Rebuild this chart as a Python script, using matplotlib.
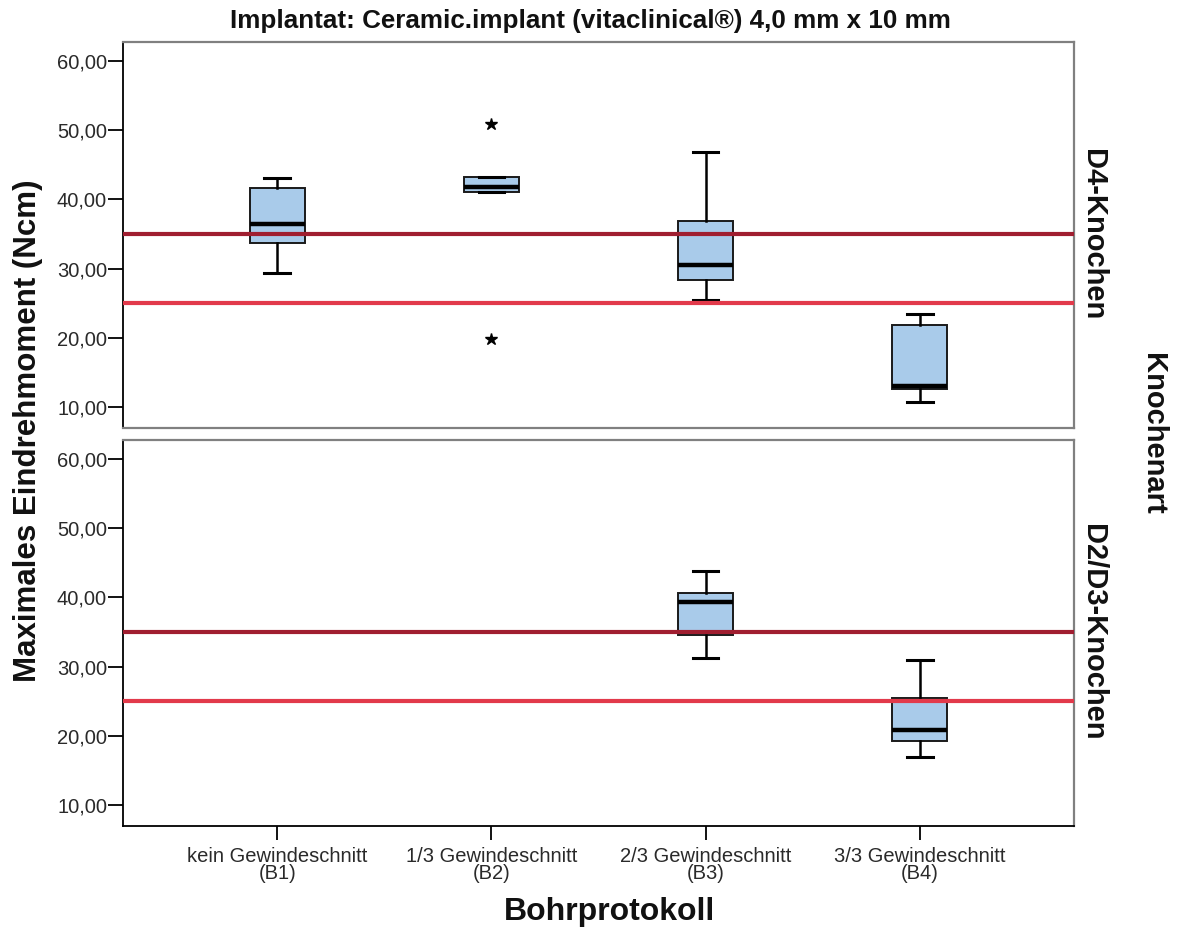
import matplotlib
matplotlib.use("Agg")
import matplotlib.pyplot as plt
from matplotlib.ticker import FuncFormatter

plt.rcParams['font.family'] = ['Liberation Sans', 'DejaVu Sans']

# Bohrprotokolle (x categories)
protokolle = ['kein Gewindeschnitt\n(B1)', '1/3 Gewindeschnitt\n(B2)',
              '2/3 Gewindeschnitt\n(B3)', '3/3 Gewindeschnitt\n(B4)']

# D4-Knochen: box statistics per protocol
d4_pos = [1, 2, 3, 4]
d4_whislo = [29.3, 41.0, 25.4, 10.7]
d4_q1 = [33.7, 41.0, 28.4, 12.6]
d4_med = [36.5, 41.8, 30.5, 13.0]
d4_q3 = [41.7, 43.2, 36.8, 21.9]
d4_whishi = [43.1, 43.2, 46.8, 23.5]
d4_fliers = [[], [50.9, 19.9], [], []]

# D2/D3-Knochen: only B3 and B4 measured
d23_pos = [3, 4]
d23_whislo = [31.3, 17.0]
d23_q1 = [34.5, 19.2]
d23_med = [39.3, 20.9]
d23_q3 = [40.6, 25.5]
d23_whishi = [43.8, 30.9]
d23_fliers = [[], []]

# reference torque limits
grenzen = [35, 25]
grenz_farben = ['#a01e30', '#e23a4b']

yticks = [10, 20, 30, 40, 50, 60]
box_color = '#a9cbea'
frame_color = '#808080'


def make_stats(whislo, q1, med, q3, whishi, fliers):
    return [dict(whislo=a, q1=b, med=c, q3=d, whishi=e, fliers=f)
            for a, b, c, d, e, f in zip(whislo, q1, med, q3, whishi, fliers)]


def draw_panel(ax, stats, pos):
    ax.bxp(stats, positions=pos, widths=0.257, patch_artist=True,
           showfliers=True,
           boxprops=dict(facecolor=box_color, edgecolor='#1a1a1a', linewidth=1.4),
           medianprops=dict(color='black', linewidth=3.2),
           whiskerprops=dict(color='black', linewidth=1.8),
           capprops=dict(color='black', linewidth=2.2),
           capwidths=0.12,
           flierprops=dict(marker='*', markerfacecolor='black',
                           markeredgecolor='black', markersize=9, linestyle='none'))
    for g, c in zip(grenzen, grenz_farben):
        ax.axhline(g, color=c, linewidth=3.0, zorder=5)
    ax.set_xlim(0.28, 4.72)
    ax.set_ylim(7.0, 62.7)
    ax.set_yticks(yticks)
    ax.yaxis.set_major_formatter(FuncFormatter(lambda v, p: f'{v:.2f}'.replace('.', ',')))
    ax.tick_params(axis='y', direction='out', length=11, width=1.3,
                   labelsize=14.5, labelcolor='#2a2a2a', pad=0.5)
    for s in ['top', 'right', 'bottom']:
        ax.spines[s].set_color(frame_color)
        ax.spines[s].set_linewidth(1.6)
    ax.spines['left'].set_color('black')
    ax.spines['left'].set_linewidth(1.3)


fig = plt.figure(figsize=(11.77, 9.33), dpi=100)
ax1 = fig.add_axes([0.1045, 0.5413, 0.808, 0.4137])
ax2 = fig.add_axes([0.1045, 0.1147, 0.808, 0.4137])

draw_panel(ax1, make_stats(d4_whislo, d4_q1, d4_med, d4_q3, d4_whishi, d4_fliers), d4_pos)
draw_panel(ax2, make_stats(d23_whislo, d23_q1, d23_med, d23_q3, d23_whishi, d23_fliers), d23_pos)

ax1.set_xticks([])
ax2.set_xticks([1, 2, 3, 4])
ax2.set_xticklabels(protokolle, fontsize=14.5, color='#2a2a2a', linespacing=0.85)
ax2.tick_params(axis='x', direction='out', length=10, width=1.3, pad=5)
ax2.spines['bottom'].set_color('black')
ax2.spines['bottom'].set_linewidth(1.3)

fig.text(0.502, 0.978, 'Implantat: Ceramic.implant (vitaclinical®) 4,0 mm x 10 mm',
         ha='center', va='center', fontsize=18.7, fontweight='bold', color='#111111')
fig.text(0.024, 0.538, 'Maximales Eindrehmoment (Ncm)', rotation=90,
         ha='center', va='center', fontsize=22.5, fontweight='bold', color='#111111')
fig.text(0.518, 0.022, 'Bohrprotokoll', ha='center', va='center',
         fontsize=23, fontweight='bold', color='#111111')

# facet labels on the right
fig.text(0.929, 0.748, 'D4-Knochen', rotation=-90, ha='center', va='center',
         fontsize=21, fontweight='bold', color='#111111')
fig.text(0.929, 0.322, 'D2/D3-Knochen', rotation=-90, ha='center', va='center',
         fontsize=21, fontweight='bold', color='#111111')
fig.text(0.980, 0.535, 'Knochenart', rotation=-90, ha='center', va='center',
         fontsize=21, fontweight='bold', color='#111111')

fig.savefig('out.png', dpi=100)
